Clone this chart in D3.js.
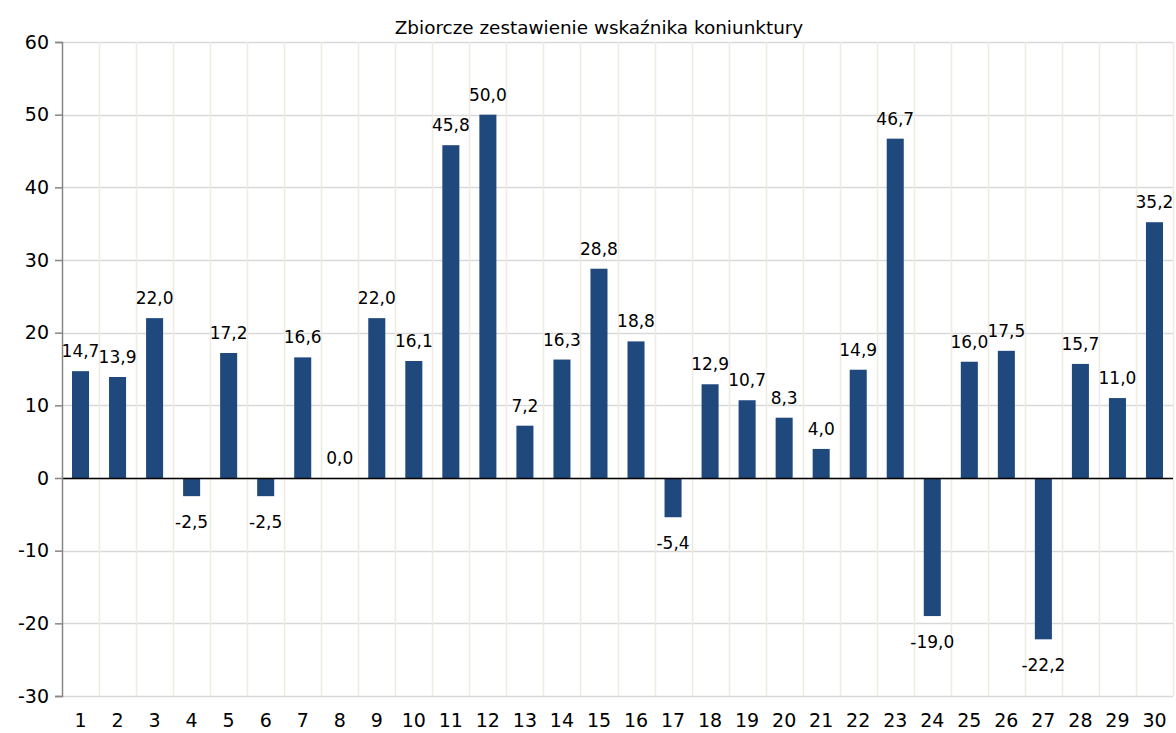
<!DOCTYPE html>
<html><head><meta charset="utf-8">
<script src="https://cdn.jsdelivr.net/npm/d3@7"></script>
<style>body{margin:0;background:#fff}svg{display:block}text{font-family:"DejaVu Sans",sans-serif}</style>
</head><body>
<script>
const title = "Zbiorcze zestawienie wskaźnika koniunktury";
const categories = d3.range(1, 31).map(String);
const values = [14.7,13.9,22.0,-2.5,17.2,-2.5,16.6,0.0,22.0,16.1,45.8,50.0,7.2,16.3,28.8,18.8,-5.4,12.9,10.7,8.3,4.0,14.9,46.7,-19.0,16.0,17.5,-22.2,15.7,11.0,35.2];
const yTicks = [-30,-20,-10,0,10,20,30,40,50,60];

const W = 1176, H = 733;
const m = {left: 62, right: 3, top: 42, bottom: 37};
const svg = d3.select("body").append("svg").attr("width", W).attr("height", H);

const x = d3.scaleBand().domain(categories).range([m.left, W - m.right]).paddingInner(0.54).paddingOuter(0.27);
const xb = d3.scaleBand().domain(categories).range([m.left, W - m.right]);
const y = d3.scaleLinear().domain([-30, 60]).range([H - m.bottom, m.top]);

// horizontal gridlines
svg.append("g").selectAll("line").data(yTicks).join("line")
  .attr("x1", m.left).attr("x2", W - m.right)
  .attr("y1", d => Math.round(y(d)) + 0.5).attr("y2", d => Math.round(y(d)) + 0.5)
  .attr("stroke", "#d9d9d9").attr("stroke-width", 1.5);
// vertical gridlines at category boundaries
svg.append("g").selectAll("line").data(categories).join("line")
  .attr("x1", d => Math.round(xb(d) + xb.bandwidth()) + 0.5).attr("x2", d => Math.round(xb(d) + xb.bandwidth()) + 0.5)
  .attr("y1", m.top).attr("y2", H - m.bottom)
  .attr("stroke", "#eeece1").attr("stroke-width", 1.5);

// bars
svg.append("g").selectAll("rect").data(values).join("rect")
  .attr("x", (d, i) => x(categories[i]))
  .attr("width", x.bandwidth())
  .attr("y", d => y(Math.max(0, d)))
  .attr("height", d => Math.abs(y(d) - y(0)))
  .attr("fill", "#1f497d");

// zero line
svg.append("line").attr("x1", m.left).attr("x2", W - m.right)
  .attr("y1", Math.round(y(0)) + 0.5).attr("y2", Math.round(y(0)) + 0.5)
  .attr("stroke", "#000").attr("stroke-width", 1.5);

// y axis
const yAxis = svg.append("g").attr("transform", `translate(${m.left},0)`)
  .call(d3.axisLeft(y).tickValues(yTicks).tickSize(7).tickPadding(6).tickFormat(d => String(d)));
yAxis.select(".domain").attr("stroke", "#868686").attr("stroke-width", 1.5);
yAxis.selectAll(".tick line").attr("stroke", "#868686").attr("stroke-width", 1.5);
yAxis.selectAll("text").attr("font-size", 19).attr("fill", "#000").attr("font-family", "DejaVu Sans");

// x labels
svg.append("g").selectAll("text").data(categories).join("text")
  .attr("x", d => xb(d) + xb.bandwidth() / 2)
  .attr("y", H - m.bottom + 31)
  .attr("text-anchor", "middle").attr("font-size", 19).attr("fill", "#000")
  .text(d => d);

// data labels
const fmt = v => v.toFixed(1).replace(".", ",");
svg.append("g").selectAll("text").data(values).join("text")
  .attr("x", (d, i) => xb(categories[i]) + xb.bandwidth() / 2)
  .attr("y", d => d >= 0 ? y(d) - 14 : y(d) + 32)
  .attr("text-anchor", "middle").attr("font-size", 17).attr("fill", "#000")
  .text(d => fmt(d));

// title
svg.append("text").attr("x", 599).attr("y", 34).attr("text-anchor", "middle")
  .attr("font-size", 18.4).attr("fill", "#000").text(title);
</script>
</body></html>
